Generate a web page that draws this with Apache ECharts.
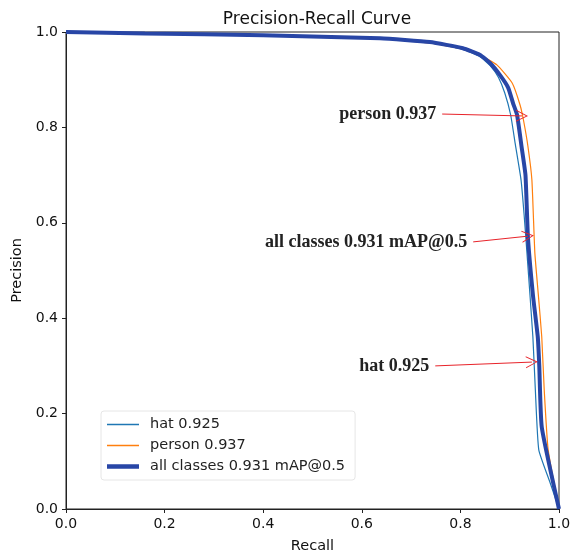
<!DOCTYPE html>
<html><head><meta charset="utf-8">
<script src="https://cdn.jsdelivr.net/npm/echarts@6/dist/echarts.min.js"></script>
<style>html,body{margin:0;padding:0;background:#fff}#c{width:575px;height:553px}</style>
</head><body><div id="c"></div>
<script>
// Data
const hatRecall = [0, 0.2, 0.4, 0.637, 0.738, 0.805, 0.84, 0.86, 0.877, 0.89, 0.902, 0.911, 0.923, 0.929, 0.935, 0.947, 0.952, 0.959, 0.982, 1.0];
const hatPrecision = [1.0, 0.996, 0.992, 0.986, 0.978, 0.964, 0.948, 0.93, 0.905, 0.872, 0.826, 0.767, 0.69, 0.62, 0.537, 0.361, 0.25, 0.124, 0.055, 0.0];
const personRecall = [0, 0.2, 0.4, 0.637, 0.738, 0.805, 0.84, 0.874, 0.905, 0.921, 0.928, 0.937, 0.945, 0.951, 0.958, 0.965, 0.97, 0.978, 1.0];
const personPrecision = [1.0, 0.996, 0.992, 0.986, 0.977, 0.964, 0.951, 0.931, 0.893, 0.847, 0.815, 0.76, 0.69, 0.537, 0.45, 0.361, 0.25, 0.124, 0.0];
const allRecall = [0, 0.16, 0.4, 0.637, 0.738, 0.805, 0.84, 0.86, 0.88, 0.897, 0.907, 0.915, 0.924, 0.932, 0.937, 0.947, 0.957, 0.96, 0.965, 1.0];
const allPrecision = [1.0, 0.997, 0.993, 0.987, 0.979, 0.966, 0.952, 0.935, 0.91, 0.883, 0.85, 0.826, 0.76, 0.70, 0.57, 0.45, 0.36, 0.30, 0.172, 0.0];
const seriesNames = ['hat 0.925', 'person 0.937', 'all classes 0.931 mAP@0.5'];
// Annotation arrows: [label, startRecall, startPrecision, endRecall, endPrecision]
const annotations = [
  ['person 0.937', 0.763, 0.828, 0.925, 0.824],
  ['all classes 0.931 mAP@0.5', 0.826, 0.560, 0.937, 0.572],
  ['hat 0.925', 0.749, 0.300, 0.945, 0.308]
];

const zip = (a, b) => a.map((v, i) => [v, b[i]]);
const chevron = 'path://M0,0 L6,12 L5,12 L0,2 L-5,12 L-6,12 Z';
// legend line icons: tiny corner specks fix the box, the bar is the line sample
const lineIcon = h => {
  const a = (5 - h / 2).toFixed(2), b = (5 + h / 2).toFixed(2);
  return `path://M0,0 L0.05,0 L0.05,0.05 Z M0,${a} L32,${a} L32,${b} L0,${b} Z M37.95,9.95 L38,9.95 L38,10 Z`;
};

const chart = echarts.init(document.getElementById('c'), null, {renderer: 'canvas'});
const font = 'DejaVu Sans';
chart.setOption({
  animation: false,
  backgroundColor: '#fff',
  title: {
    text: 'Precision-Recall Curve', left: 312, top: 6, textAlign: 'center',
    textStyle: {fontFamily: font, fontSize: 17, fontWeight: 'normal', color: '#111'}
  },
  grid: {left: 66, right: 16, top: 32, bottom: 44, show: true, borderColor: '#222', borderWidth: 1,
         containLabel: false, outerBoundsMode: 'none'},
  legend: {
    orient: 'vertical', left: 101, top: 411,
    data: [
      {name: seriesNames[0], icon: lineIcon(1.5)},
      {name: seriesNames[1], icon: lineIcon(1.5)},
      {name: seriesNames[2], icon: lineIcon(4.5)}
    ],
    itemWidth: 38, itemHeight: 10, itemGap: 6,
    padding: [6, 10, 6, 6],
    borderColor: '#e6e6e6', borderWidth: 1, borderRadius: 3,
    backgroundColor: 'rgba(255,255,255,0.8)',
    textStyle: {fontFamily: font, fontSize: 14.5, color: '#222'}
  },
  xAxis: {
    type: 'value', min: 0, max: 1, interval: 0.2,
    name: 'Recall', nameLocation: 'middle', nameGap: 30,
    nameTextStyle: {fontFamily: font, fontSize: 14.5, color: '#111'},
    axisLine: {lineStyle: {color: '#222'}},
    axisTick: {show: true, length: 4, lineStyle: {color: '#222'}},
    axisLabel: {fontFamily: font, fontSize: 14, color: '#111', margin: 8, formatter: v => v.toFixed(1)},
    splitLine: {show: false}
  },
  yAxis: {
    type: 'value', min: 0, max: 1, interval: 0.2,
    name: 'Precision', nameLocation: 'middle', nameGap: 38,
    nameTextStyle: {fontFamily: font, fontSize: 14.5, color: '#111'},
    axisLine: {show: true, lineStyle: {color: '#222'}},
    axisTick: {show: true, length: 4, lineStyle: {color: '#222'}},
    axisLabel: {fontFamily: font, fontSize: 14, color: '#111', margin: 8, formatter: v => v.toFixed(1)},
    splitLine: {show: false}
  },
  series: [
    {name: seriesNames[0], type: 'line', data: zip(hatRecall, hatPrecision), symbol: 'none', smooth: 0.15,
     lineStyle: {width: 1.2, color: '#1f77b4'}, itemStyle: {color: '#1f77b4'}, z: 3},
    {name: seriesNames[1], type: 'line', data: zip(personRecall, personPrecision), symbol: 'none', smooth: 0.15,
     lineStyle: {width: 1.2, color: '#ff7f0e'}, itemStyle: {color: '#ff7f0e'}, z: 2},
    {name: seriesNames[2], type: 'line', data: zip(allRecall, allPrecision), symbol: 'none', smooth: 0.15,
     lineStyle: {width: 4, color: '#2846a6'}, itemStyle: {color: '#2846a6'}, z: 4,
     markLine: {
       silent: true, animation: false,
       symbol: ['none', chevron], symbolSize: [12, 12],
       lineStyle: {color: '#e8232a', width: 1, type: 'solid'},
       label: {
         show: true, position: 'start', distance: 6,
         fontFamily: 'Liberation Serif', fontWeight: 'bold', fontSize: 18, color: '#222',
         formatter: p => p.name
       },
       data: annotations.map(a => [
         {name: a[0], coord: [a[1], a[2]]},
         {coord: [a[3], a[4]]}
       ])
     }}
  ]
});
</script></body></html>
